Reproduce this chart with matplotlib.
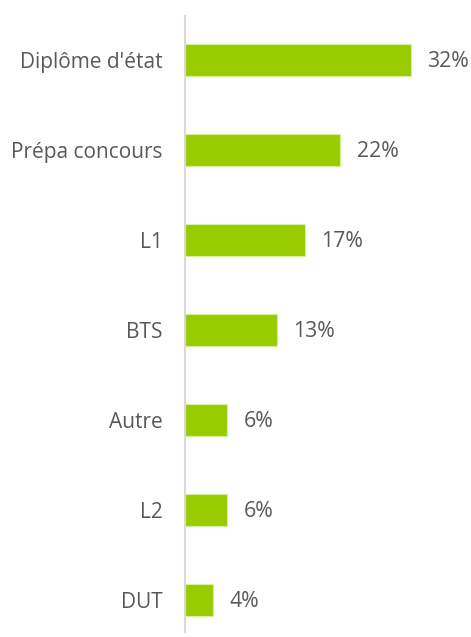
import matplotlib.pyplot as plt

categories = ["Diplôme d'état", "Prépa concours", "L1", "BTS", "Autre", "L2", "DUT"]
values = [32, 22, 17, 13, 6, 6, 4]

plt.rcParams["font.family"] = ["Open Sans", "DejaVu Sans"]

fig = plt.figure(figsize=(4.71, 6.37), dpi=100)
ax = fig.add_axes([185 / 471, 5 / 637, 282 / 471, 616 / 637])

ypos = list(range(len(categories)))
bars = ax.barh(ypos, values, height=0.356, color="#99cc00",
               edgecolor="#d6ef99", linewidth=0.8)

for y, v in zip(ypos, values):
    ax.annotate(f"{v}%", (v, y), xytext=(12, -1), textcoords="offset points",
                va="center", ha="left", fontsize=15.3, color="#595959")

ax.set_xlim(0, 40)
ax.set_ylim(6.36, -0.49)
ax.set_yticks(ypos)
ax.set_yticklabels(categories, fontsize=15, color="#595959")
ax.tick_params(axis="y", length=0, pad=16)
ax.set_xticks([])

for side in ["top", "right", "bottom"]:
    ax.spines[side].set_visible(False)
ax.spines["left"].set_color("#d9d9d9")
ax.spines["left"].set_linewidth(1.5)

fig.savefig("out.png", dpi=100)
